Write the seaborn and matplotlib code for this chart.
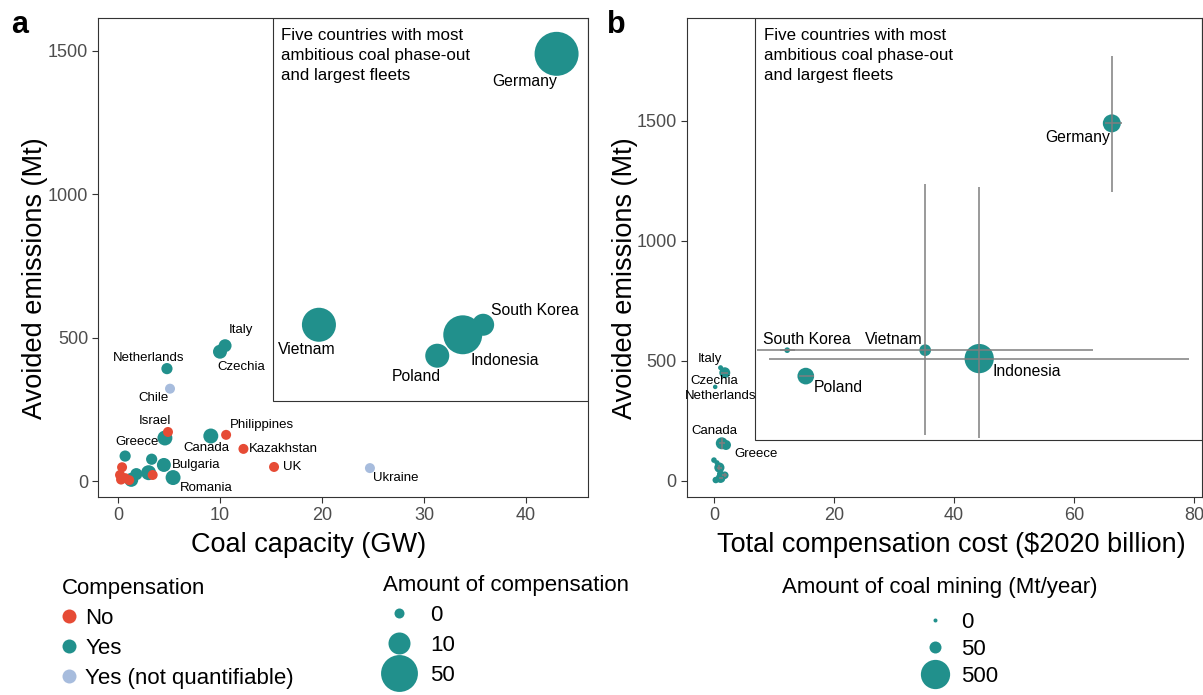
import numpy as np
import pandas as pd
import matplotlib
matplotlib.use("Agg")
import matplotlib.pyplot as plt
from matplotlib.lines import Line2D
from matplotlib.patches import Rectangle
import seaborn as sns

# ------------------------------------------------------------------ data
# Panel a: coal capacity vs avoided emissions
country_a = ["Germany", "Indonesia", "Vietnam", "South Korea", "Poland",
             "Italy", "Czechia", "Netherlands", "Canada", "Greece",
             "Bulgaria", "Romania", "", "", "", "", "",
             "Chile", "Ukraine",
             "Israel", "Philippines", "Kazakhstan", "UK", "", "", "", "", "", ""]
capacity_gw = [43.0, 33.8, 19.7, 35.8, 31.3,
               10.5, 10.0, 4.8, 9.1, 4.6,
               4.5, 5.4, 0.7, 3.3, 3.0, 1.8, 1.3,
               5.1, 24.7,
               4.9, 10.6, 12.3, 15.3, 0.4, 0.2, 0.7, 1.1, 3.4, 0.3]
avoided_mt = [1490, 510, 545, 545, 437,
              472, 451, 392, 157, 150,
              56, 12, 87, 76, 29, 24, 4,
              322, 45,
              171, 161, 112, 49, 48, 21, 10, 3, 21, 5]
compensation = ["Yes"] * 17 + ["Yes (not quantifiable)"] * 2 + ["No"] * 10
comp_amount = [80, 58, 40, 10, 13.6,
               0.6, 1.1, 0.1, 1.7, 1.7,
               1.1, 1.7, 0.1, 0.1, 1.7, 0.3, 1.1,
               np.nan, np.nan,
               0, 0, 0, 0, 0, 0, 0, 0, 0, 0]

# Panel b: total compensation cost vs avoided emissions
country_b = ["Germany", "Indonesia", "Vietnam", "South Korea", "Poland",
             "Italy", "Czechia", "Netherlands", "Canada", "Greece",
             "Bulgaria", "Romania", "", "", "", "", ""]
cost_bn = [66.3, 44.2, 35.2, 12.2, 15.3,
           1.1, 1.8, 0.2, 1.3, 2.0,
           0.9, 1.1, 0.0, 0.5, 1.1, 1.8, 0.3]
avoided_b_mt = [1490, 510, 545, 545, 437,
                472, 451, 392, 157, 150,
                56, 12, 87, 76, 29, 24, 4]
mining_mt = [153, 500, 46, 2.2, 126,
             0.8, 38, 0.2, 50, 28,
             30, 25, 2, 1, 8, 10, 5]
cost_lo = [65.2, 9.2, 7.2, 11.0, 14.2, np.nan, 1.2, np.nan, 0.9, np.nan,
           0.5, 0.8, np.nan, np.nan, np.nan, 1.4, np.nan]
cost_hi = [68.0, 79.2, 63.2, 13.5, 16.7, np.nan, 2.4, np.nan, 1.8, np.nan,
           1.3, 1.5, np.nan, np.nan, np.nan, 2.2, np.nan]
em_lo = [1205, 179, 191, np.nan, np.nan, np.nan, np.nan, np.nan, 135, np.nan,
         45, np.nan, np.nan, np.nan, np.nan, 15, np.nan]
em_hi = [1770, 1226, 1238, np.nan, np.nan, np.nan, np.nan, np.nan, 180, np.nan,
         65, np.nan, np.nan, np.nan, np.nan, 35, np.nan]

comp_levels = ["No", "Yes", "Yes (not quantifiable)"]
comp_legend_values = [0, 10, 50]
mining_legend_values = [0, 50, 500]
big_five = ["Germany", "Indonesia", "Vietnam", "South Korea", "Poland"]

# ------------------------------------------------------------------ styling
RED, TEAL, LBLUE = "#E64B35", "#21908C", "#A7BCDD"
palette = {"No": RED, "Yes": TEAL, "Yes (not quantifiable)": LBLUE}
FRAME = "#333333"
ERR = "#7F7F7F"
DPI = 100
PX = 72 / DPI  # points per pixel

# label offsets in pixels (dx right, dy down)
offs_a = {"Germany": (-32, 28), "Vietnam": (-12, 25), "Indonesia": (42, 26),
          "South Korea": (52, -14), "Poland": (-21, 21), "Italy": (16, -16),
          "Czechia": (21, 15), "Netherlands": (-18, -11), "Chile": (-17, 9),
          "Israel": (-13, -11), "Greece": (-28, 4), "Canada": (-4, 12),
          "Philippines": (36, -10), "Kazakhstan": (40, 0), "UK": (18, 0),
          "Ukraine": (26, 10), "Bulgaria": (32, 0), "Romania": (33, 10)}
offs_b = {"Germany": (-34, 14), "Indonesia": (48, 13), "Vietnam": (-31, -11),
          "South Korea": (20, -11), "Poland": (33, 11), "Italy": (-11, -9),
          "Czechia": (-11, 8), "Netherlands": (5, 9), "Canada": (-7, -12),
          "Greece": (30, 9)}


def dia_a(v):
    v = np.asarray(v, dtype=float)
    return 10 + 3.8 * np.sqrt(np.nan_to_num(v, nan=0.0))


def dia_b(v):
    v = np.asarray(v, dtype=float)
    return 4 + 1.13 * np.sqrt(v)


df_a = pd.DataFrame({"country": country_a, "capacity": capacity_gw,
                     "emissions": avoided_mt, "compensation": compensation,
                     "amount": comp_amount})
df_b = pd.DataFrame({"country": country_b, "cost": cost_bn,
                     "emissions": avoided_b_mt, "mining": mining_mt,
                     "cost_lo": cost_lo, "cost_hi": cost_hi,
                     "em_lo": em_lo, "em_hi": em_hi})

sns.set_style("white")
plt.rcParams["font.family"] = ["Liberation Sans", "DejaVu Sans"]
plt.rcParams["text.color"] = "black"
plt.rcParams["axes.labelcolor"] = "black"
plt.rcParams["axes.edgecolor"] = FRAME
plt.rcParams["axes.linewidth"] = 0.8

W, H = 1203, 695
fig = plt.figure(figsize=(W / DPI, H / DPI), dpi=DPI)


def fx(px):
    return px / W


def fy(py):
    return 1 - py / H


ax_a = fig.add_axes([fx(98), fy(497), fx(588) - fx(98), fy(18) - fy(497)])
ax_b = fig.add_axes([fx(686.5), fy(497), fx(1202) - fx(686.5), fy(18) - fy(497)])

NOTE = "Five countries with most\nambitious coal phase-out\nand largest fleets"

# ------------------------------------------------------------------ panel a
sns.scatterplot(data=df_a, x="capacity", y="emissions", hue="compensation",
                palette=palette, s=(dia_a(df_a["amount"]) * PX) ** 2,
                linewidth=0, edgecolor="none", legend=False, ax=ax_a, zorder=3)
ax_a.set_xlim(-1.96, 46.08)
ax_a.set_ylim(-55.8, 1615)
ax_a.add_patch(Rectangle((15.2, 279), 46.08 - 15.2, 1615 - 279, fill=False,
                         edgecolor=FRAME, linewidth=0.8, zorder=2))
for _, r in df_a.iterrows():
    if r["country"] in offs_a:
        dx, dy = offs_a[r["country"]]
        ax_a.annotate(r["country"], (r["capacity"], r["emissions"]),
                      xytext=(dx * PX, -dy * PX), textcoords="offset points",
                      ha="center", va="center", color="black",
                      fontsize=11.3 if r["country"] in big_five else 9.5,
                      zorder=4)
ax_a.set_xticks([0, 10, 20, 30, 40])
ax_a.set_yticks([0, 500, 1000, 1500])
ax_a.set_xlabel("Coal capacity (GW)", fontsize=19.5)
ax_a.set_ylabel("Avoided emissions (Mt)", fontsize=19.5)
ax_a.xaxis.set_label_coords(0.429, -0.073)
ax_a.yaxis.set_label_coords(-0.102, 0.457)
ax_a.text(0.3735, 0.979, NOTE, transform=ax_a.transAxes, ha="left", va="top",
          fontsize=12.2, linespacing=1.4)

# ------------------------------------------------------------------ panel b
sns.scatterplot(data=df_b, x="cost", y="emissions", color=TEAL,
                s=(dia_b(df_b["mining"]) * PX) ** 2,
                linewidth=0, edgecolor="none", legend=False, ax=ax_b, zorder=3)
xe = np.vstack([(df_b["cost"] - df_b["cost_lo"]).fillna(0),
                (df_b["cost_hi"] - df_b["cost"]).fillna(0)])
ye = np.vstack([(df_b["emissions"] - df_b["em_lo"]).fillna(0),
                (df_b["em_hi"] - df_b["emissions"]).fillna(0)])
ax_b.errorbar(df_b["cost"], df_b["emissions"], xerr=xe, yerr=ye, fmt="none",
              ecolor=ERR, elinewidth=1.1, capsize=0, zorder=4)
ax_b.set_xlim(-4.58, 81.33)
ax_b.set_ylim(-66.7, 1929)
ax_b.add_patch(Rectangle((6.9, 171), 81.33 - 6.9, 1929 - 171, fill=False,
                         edgecolor=FRAME, linewidth=0.8, zorder=2))
for _, r in df_b.iterrows():
    if r["country"] in offs_b:
        dx, dy = offs_b[r["country"]]
        ax_b.annotate(r["country"], (r["cost"], r["emissions"]),
                      xytext=(dx * PX, -dy * PX), textcoords="offset points",
                      ha="center", va="center", color="black",
                      fontsize=11.3 if r["country"] in big_five else 9.5,
                      zorder=5)
ax_b.set_xticks([0, 20, 40, 60, 80])
ax_b.set_yticks([0, 500, 1000, 1500])
ax_b.set_xlabel("Total compensation cost ($2020 billion)", fontsize=19.5)
ax_b.set_ylabel("Avoided emissions (Mt)", fontsize=19.5)
ax_b.xaxis.set_label_coords(0.513, -0.073)
ax_b.yaxis.set_label_coords(-0.094, 0.457)
ax_b.text(0.150, 0.979, NOTE, transform=ax_b.transAxes, ha="left", va="top",
          fontsize=12.2, linespacing=1.4)

for ax in (ax_a, ax_b):
    ax.tick_params(axis="both", which="major", length=4, width=0.8,
                   color=FRAME, labelsize=13, labelcolor="#4D4D4D",
                   bottom=True, left=True, pad=3)
    for sp in ax.spines.values():
        sp.set_visible(True)
        sp.set_color(FRAME)
        sp.set_linewidth(0.8)

fig.text(fx(11), fy(33), "a", fontsize=22, fontweight="bold", ha="left", va="baseline")
fig.text(fx(607), fy(33), "b", fontsize=22, fontweight="bold", ha="left", va="baseline")

# ------------------------------------------------------------------ legends
h1 = [Line2D([], [], marker="o", linestyle="none", markersize=14 * PX,
             markerfacecolor=palette[l], markeredgewidth=0) for l in comp_levels]
fig.legend(h1, comp_levels, title="Compensation", loc="upper left",
           bbox_to_anchor=(fx(62), fy(578)), frameon=False, borderaxespad=0,
           fontsize=16, title_fontsize=16, handlelength=0.6,
           handletextpad=0.45, labelspacing=0.4, borderpad=0,
           alignment="left")

h2 = [Line2D([], [], marker="o", linestyle="none", markersize=float(dia_a(v)) * PX,
             markerfacecolor=TEAL, markeredgewidth=0) for v in comp_legend_values]
fig.legend(h2, [str(v) for v in comp_legend_values],
           title="Amount of compensation", loc="upper left",
           bbox_to_anchor=(fx(383), fy(575)), frameon=False, borderaxespad=0,
           fontsize=16, title_fontsize=16, handlelength=1.4,
           handletextpad=0.74, labelspacing=0.4, borderpad=0,
           alignment="left")

h3 = [Line2D([], [], marker="o", linestyle="none", markersize=float(dia_b(v)) * PX,
             markerfacecolor=TEAL, markeredgewidth=0) for v in mining_legend_values]
fig.legend(h3, [str(v) for v in mining_legend_values], loc="upper left",
           bbox_to_anchor=(fx(920), fy(612)), frameon=False, borderaxespad=0,
           fontsize=16, handlelength=1.35,
           handletextpad=0.5, labelspacing=0.27, borderpad=0)
fig.text(fx(940), fy(588), "Amount of coal mining (Mt/year)", fontsize=16,
         ha="center", va="center")

fig.savefig("out.png", dpi=DPI)
